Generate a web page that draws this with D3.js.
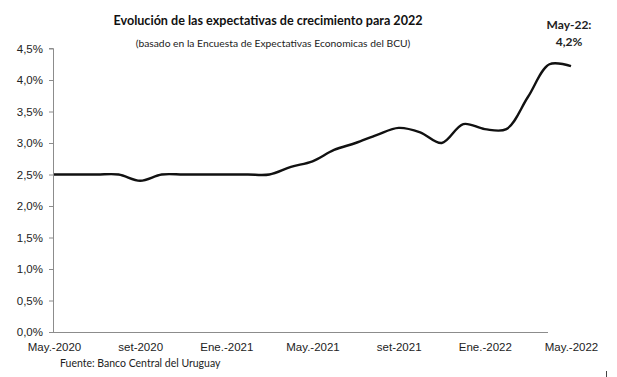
<!DOCTYPE html>
<html>
<head>
<meta charset="utf-8">
<script src="https://cdn.jsdelivr.net/npm/d3@7"></script>
<style>
  html, body { margin: 0; padding: 0; background: #fff; }
  svg { display: block; font-family: Lato, "Open Sans", sans-serif; }
</style>
</head>
<body>
<svg id="chart" width="617" height="377"></svg>
<script>
// Monthly observations, May-2020 .. May-2022
const months = ["2020-05","2020-06","2020-07","2020-08","2020-09","2020-10","2020-11","2020-12",
                "2021-01","2021-02","2021-03","2021-04","2021-05","2021-06","2021-07","2021-08",
                "2021-09","2021-10","2021-11","2021-12","2022-01","2022-02","2022-03","2022-04","2022-05"];
const growth = [2.50, 2.50, 2.50, 2.50, 2.40, 2.50, 2.50, 2.50,
                2.50, 2.50, 2.50, 2.62, 2.71, 2.89, 3.00, 3.13,
                3.24, 3.17, 3.00, 3.30, 3.22, 3.22, 3.73, 4.25, 4.22];
const yTicks = [0, 0.5, 1.0, 1.5, 2.0, 2.5, 3.0, 3.5, 4.0, 4.5];
const xTickIdx = [0, 4, 8, 12, 16, 20, 24];
const xTickLabels = ["May.-2020","set-2020","Ene.-2021","May.-2021","set-2021","Ene.-2022","May.-2022"];
const title = "Evolución de las expectativas de crecimiento para 2022";
const subtitle = "(basado en la Encuesta de Expectativas Economicas del BCU)";
const source = "Fuente: Banco Central del Uruguay";
const annotation = ["May-22:", "4,2%"];

(function () {
const svg = d3.select("#chart");
const pLeft = 53, pRight = 571, pTop = 48.5, pBottom = 332;

const x = d3.scaleLinear().domain([0, months.length - 1]).range([pLeft + 1, pRight]);
const y = d3.scaleLinear().domain([0, 4.5]).range([pBottom, pTop]);

const fmt = v => d3.format(".1f")(v).replace(".", ",") + "%";

// Y axis
const yAxis = svg.append("g").attr("transform", `translate(${pLeft},0)`)
  .call(d3.axisLeft(y).tickValues(yTicks).tickSize(4).tickPadding(6).tickFormat(fmt));
yAxis.select(".domain").attr("stroke", "#8c8c8c").attr("d", `M-4,${pTop}H0.5V${pBottom}`);
yAxis.selectAll(".tick line").attr("stroke", "#8c8c8c");
yAxis.selectAll("text").attr("fill", "#222").style("font-size", "11.5px");

// X axis
const xAxis = svg.append("g").attr("transform", `translate(0,${pBottom})`)
  .call(d3.axisBottom(x).tickValues(xTickIdx).tickSize(0).tickPadding(11)
    .tickFormat((d, i) => xTickLabels[i]));
xAxis.select(".domain").attr("stroke", "#8c8c8c").attr("d", `M${pLeft},0.5H548`);
xAxis.selectAll("text").attr("fill", "#222").style("font-size", "11.5px");

// Line
const line = d3.line()
  .x((d, i) => x(i))
  .y(d => y(d))
  .curve(d3.curveCatmullRom.alpha(0.5));
svg.append("path").datum(growth)
  .attr("d", line)
  .attr("fill", "none")
  .attr("stroke", "#111")
  .attr("stroke-width", 2.4)
  .attr("stroke-linejoin", "round");

// Titles
svg.append("text").attr("x", 268).attr("y", 25).attr("text-anchor", "middle")
  .style("font-size", "12.6px").style("font-weight", "bold").attr("fill", "#111").text(title);
svg.append("text").attr("x", 273).attr("y", 47).attr("text-anchor", "middle")
  .style("font-size", "10.3px").attr("fill", "#222").text(subtitle);

// Annotation
svg.append("text").attr("x", 569).attr("y", 29).attr("text-anchor", "middle")
  .style("font-size", "12px").style("font-weight", "bold").attr("fill", "#222").text(annotation[0]);
svg.append("text").attr("x", 569).attr("y", 46).attr("text-anchor", "middle")
  .style("font-size", "12px").style("font-weight", "bold").attr("fill", "#222").text(annotation[1]);

// Source
svg.append("text").attr("x", 60).attr("y", 367)
  .style("font-size", "10.5px").attr("fill", "#222").text(source);

// small mark at bottom right
svg.append("line").attr("x1", 606.5).attr("x2", 606.5).attr("y1", 371).attr("y2", 377)
  .attr("stroke", "#444").attr("stroke-width", 1);
})();
</script>
</body>
</html>
